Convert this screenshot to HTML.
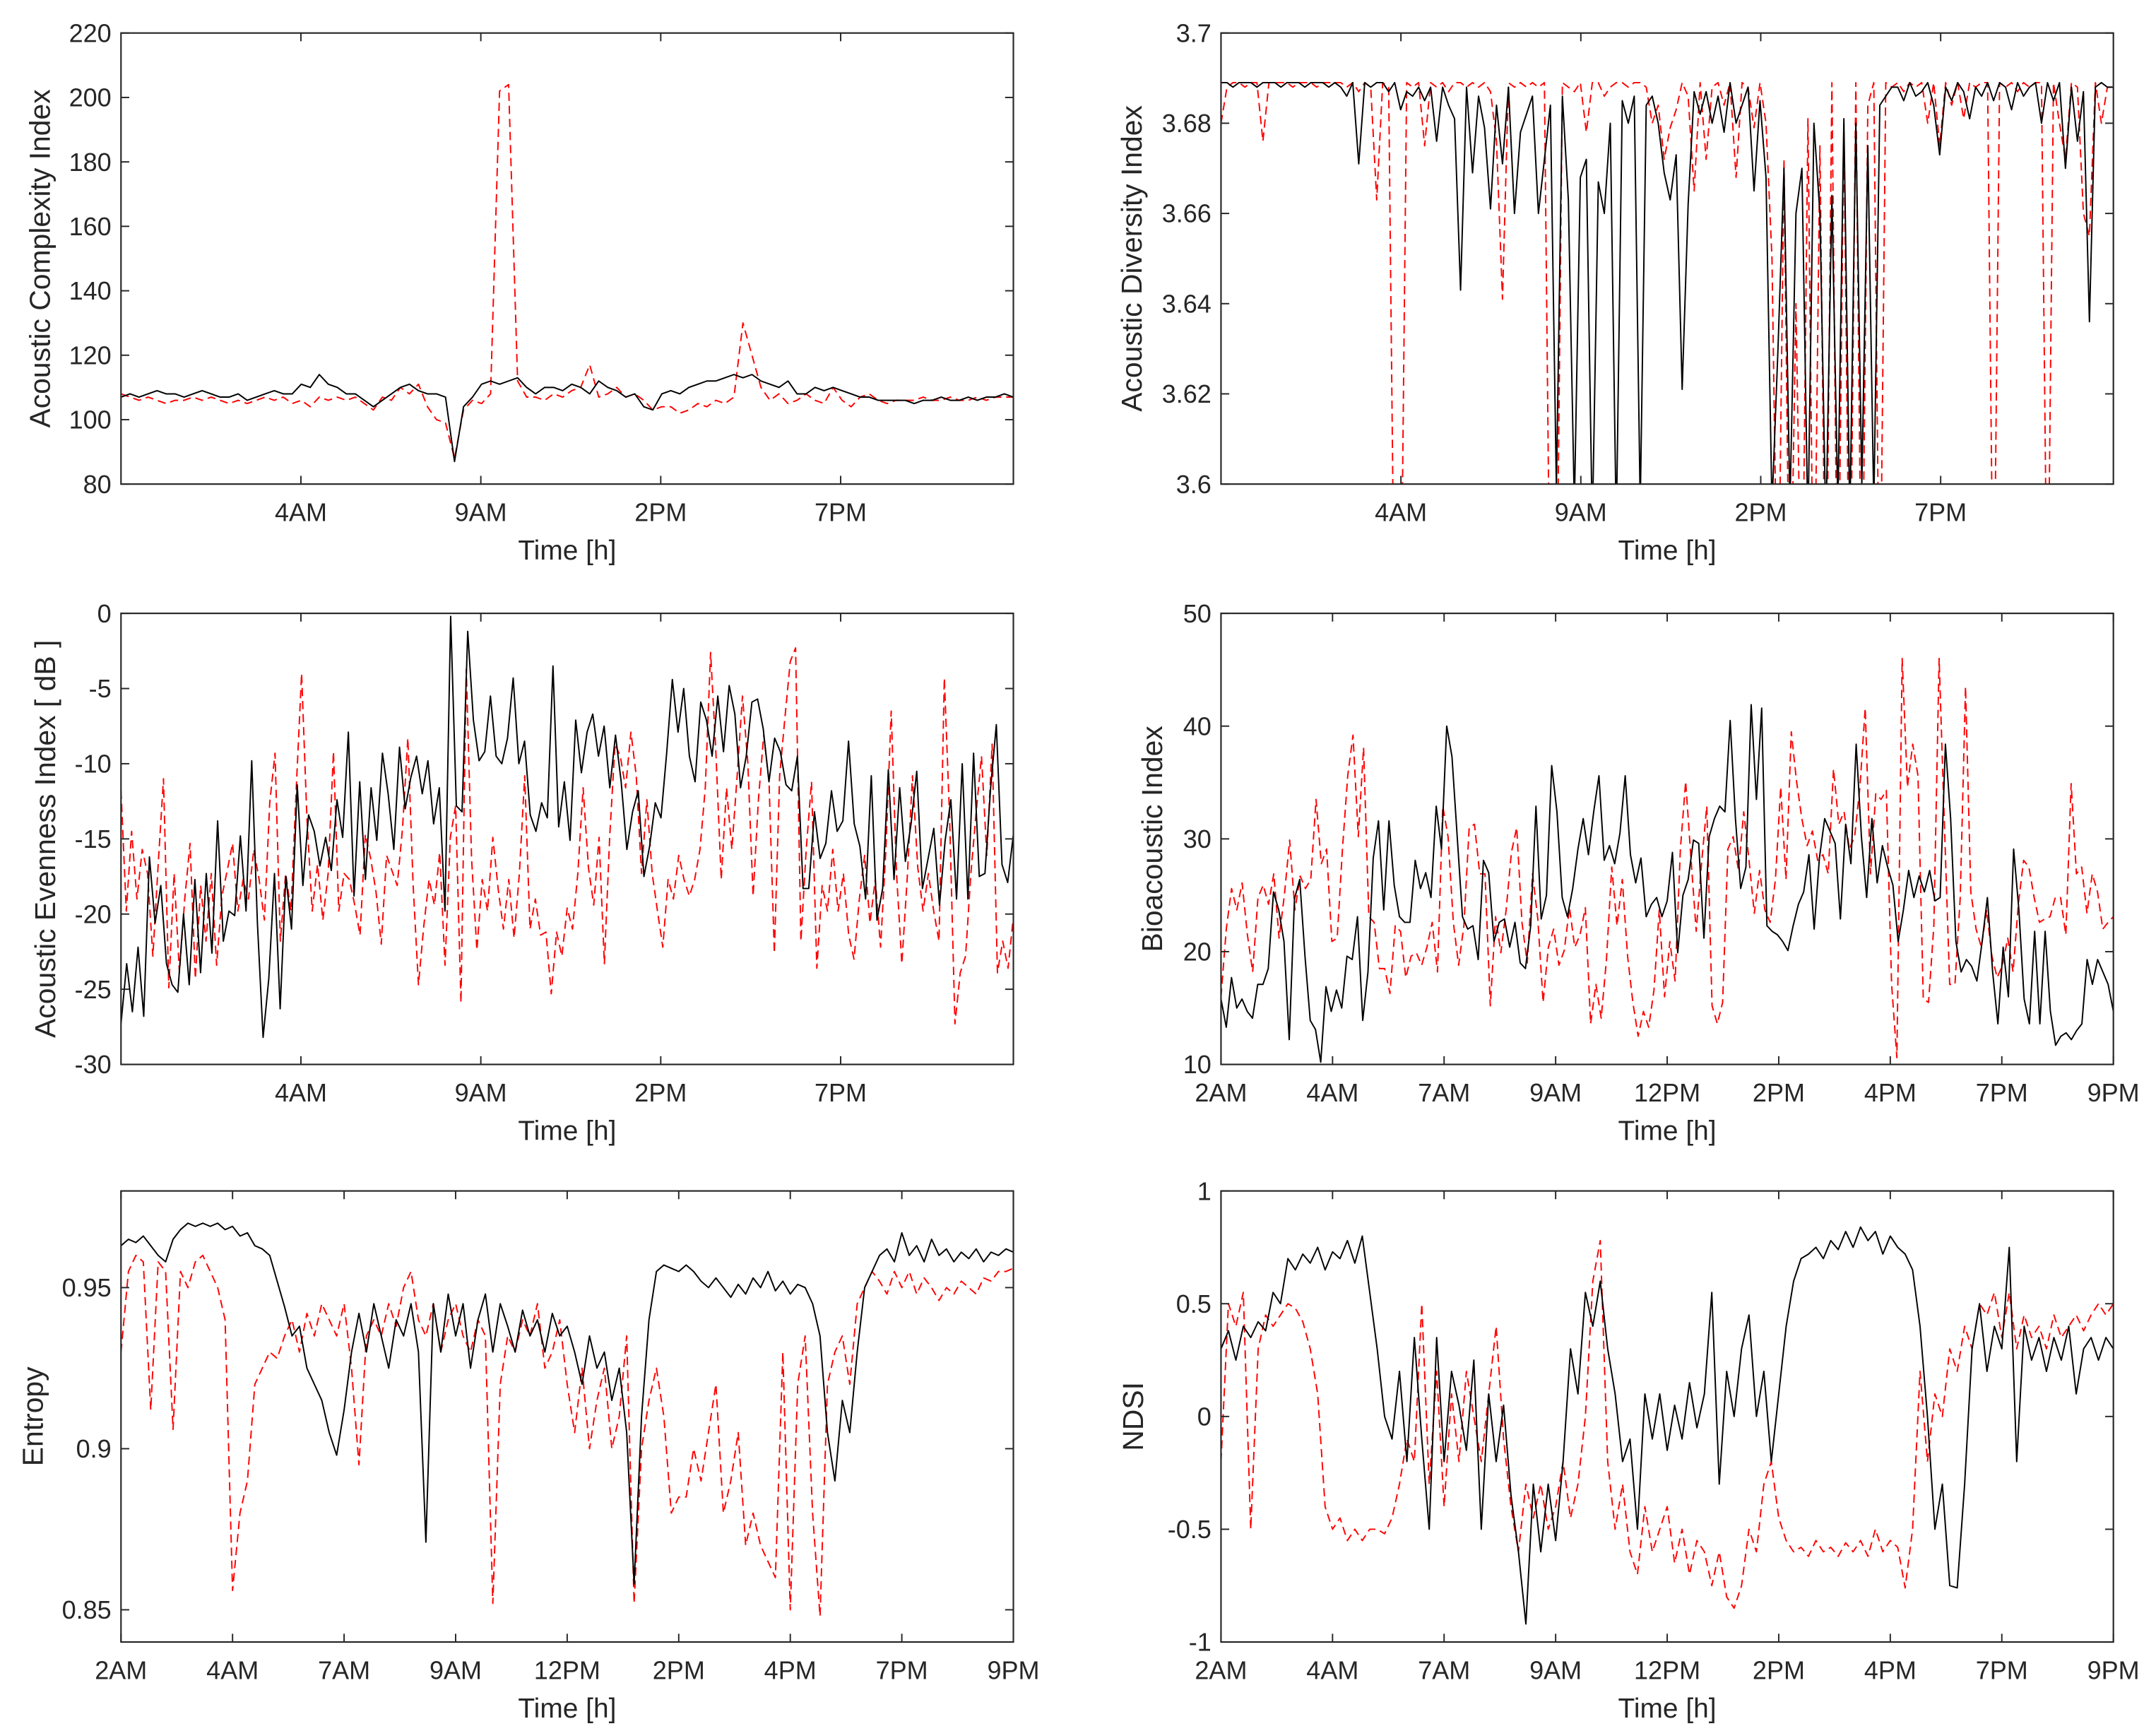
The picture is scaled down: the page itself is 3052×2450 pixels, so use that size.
<!DOCTYPE html>
<html><head><meta charset="utf-8">
<style>
html,body{margin:0;padding:0;background:#fff;}
svg{display:block;}
text{font-family:"Liberation Sans",Arial,sans-serif;fill:#262626;}
</style></head>
<body>
<svg id="fig" xmlns="http://www.w3.org/2000/svg" width="3052" height="2450" viewBox="0 0 1568 1258.7"></svg>
<script>
// ---------- DATA ----------
const hourTicks12 = [5, 10, 15, 20];
const tickLabels12 = ["4AM", "9AM", "2PM", "7PM"];
const tickLabelsDay = ["2AM", "4AM", "7AM", "9AM", "12PM", "2PM", "4PM", "7PM", "9PM"];

const aciBlack = [107,108,107,108,109,108,108,107,108,109,108,107,107,108,106,107,108,109,108,108,
111,110,114,111,110,108,108,106,104,106,108,110,111,109,108,108,107,87,104,107,
111,112,111,112,113,110,108,110,110,109,111,110,108,112,110,109,107,108,104,103,
108,109,108,110,111,112,112,113,114,113,114,112,111,110,112,108,108,110,109,110,
109,108,107,107,106,106,106,106,105,106,106,107,106,106,107,106,107,107,108,107];
const aciRed = [108,107,106,107,106,105,106,106,107,106,107,106,105,106,105,106,107,106,107,105,
106,104,107,106,107,106,107,105,103,107,106,110,108,111,104,100,99,88,103,106,
105,108,202,204,112,107,107,106,108,107,109,110,117,107,108,110,107,108,106,103,
104,104,102,103,105,104,106,105,107,130,120,110,106,108,105,106,108,106,105,110,
106,104,107,108,106,105,106,106,106,107,106,106,107,106,106,107,106,107,107,107];

const adiBlack = [3.689,3.689,3.688,3.689,3.689,3.689,3.688,3.689,3.689,3.689,3.688,3.689,3.689,3.689,3.688,3.689,3.689,3.689,3.688,3.689,
3.688,3.686,3.689,3.671,3.689,3.688,3.689,3.689,3.687,3.689,
3.683,3.687,3.686,3.688,3.685,3.688,3.676,3.688,3.684,3.681,
3.643,3.688,3.669,3.686,3.679,3.661,3.684,3.671,3.688,3.660,
3.678,3.682,3.686,3.660,3.672,3.684,3.599,3.686,3.663,3.595,
3.668,3.672,3.590,3.667,3.660,3.680,3.590,3.685,3.680,3.686,
3.595,3.684,3.686,3.680,3.669,3.663,3.673,3.621,3.662,3.687,
3.682,3.687,3.680,3.686,3.678,3.689,3.680,3.684,3.688,3.665,
3.685,3.668,3.595,3.630,3.670,3.595,3.660,3.670,3.590,3.680,
3.660,3.590,3.664,3.595,3.681,3.592,3.680,3.600,3.675,3.595,
3.684,3.686,3.688,3.688,3.685,3.689,3.686,3.687,3.689,3.684,
3.673,3.688,3.685,3.689,3.687,3.681,3.688,3.686,3.689,3.685,
3.689,3.688,3.683,3.689,3.686,3.688,3.689,3.680,3.689,3.685,
3.689,3.670,3.688,3.676,3.687,3.636,3.688,3.689,3.688,3.688];
const adiRed = [3.680,3.688,3.689,3.689,3.688,3.689,3.689,3.676,3.689,3.689,
3.689,3.689,3.688,3.689,3.689,3.689,3.688,3.689,3.689,3.689,
3.689,3.688,3.689,3.687,3.689,3.688,3.663,3.689,3.688,3.560,
3.560,3.689,3.688,3.689,3.675,3.689,3.688,3.689,3.687,3.689,
3.689,3.688,3.689,3.688,3.689,3.687,3.676,3.641,3.689,3.688,
3.689,3.688,3.689,3.688,3.689,3.560,3.560,3.689,3.688,3.687,
3.689,3.678,3.689,3.689,3.686,3.688,3.689,3.689,3.688,3.689,
3.689,3.688,3.680,3.684,3.672,3.679,3.683,3.689,3.686,3.665,
3.689,3.672,3.688,3.689,3.684,3.689,3.668,3.689,3.688,3.679,
3.689,3.680,3.650,3.560,3.672,3.560,3.640,3.560,3.681,3.560,
3.675,3.560,3.689,3.560,3.680,3.560,3.689,3.560,3.684,3.689,
3.560,3.689,3.688,3.689,3.687,3.689,3.688,3.689,3.680,3.689,
3.675,3.689,3.684,3.689,3.681,3.689,3.688,3.689,3.689,3.560,
3.689,3.688,3.689,3.687,3.689,3.688,3.689,3.689,3.560,3.689,
3.680,3.672,3.689,3.688,3.660,3.655,3.689,3.680,3.688,3.688];

const aeiBlack = [-27.3,-23.3,-26.5,-22.2,-26.8,-16.2,-20.6,-18.1,-23.3,-24.7,-25.2,-20,-24.7,-17.7,-23.9,-17.3,-22.6,-13.8,-21.8,-19.8,-20.1,-14.8,-19.8,-9.8,-20.6,-28.2,-24.3,-17.3,-26.3,-17.5,-21,-11.4,-18.1,-13.4,-14.5,-16.8,-14.9,-17.1,-12.4,-14.9,-7.9,-18.8,-11.2,-17.7,-11.6,-15.1,-9.3,-12,-15.7,-8.9,-13,-10.9,-9.5,-12,-9.8,-14,-11.6,-19.8,-0.2,-12.8,-13.2,-1.2,-7.1,-9.8,-9.2,-5.5,-9.5,-10,-8.3,-4.3,-10,-8.5,-13.4,-14.5,-12.6,-13.6,-3.5,-14.2,-11.2,-15.1,-7.1,-10.6,-7.9,-6.7,-9.5,-7.5,-11.6,-8.1,-11.2,-15.7,-13.2,-11.8,-17.5,-15.5,-12.6,-13.6,-9.3,-4.4,-7.9,-5,-9.5,-11.2,-5.9,-7.1,-9.5,-5.5,-9.2,-4.8,-6.7,-11.6,-9.5,-5.9,-5.7,-7.7,-11.2,-8.3,-9.2,-11.4,-11.8,-9.5,-18.3,-18.3,-13.2,-16.3,-15.3,-11.8,-14.5,-13.8,-8.5,-14,-15.5,-19,-10.8,-20.4,-18.3,-10.4,-17.7,-11.6,-16.5,-14,-10.5,-18.3,-16.3,-14.3,-19.4,-15.1,-12.4,-19,-10,-19,-9.3,-17.5,-17.3,-11.6,-7.4,-16.7,-17.9,-14.7];
const aeiRed = [-11.8,-19.8,-14.5,-19,-15.7,-17.3,-22.8,-16.7,-11,-24.9,-17.3,-23.9,-19,-15.3,-24.3,-18.1,-21.8,-17.3,-23.4,-18.8,-17.1,-15.3,-19.8,-17.7,-19,-15.7,-17.7,-20.4,-12.6,-9.3,-21.8,-17.3,-19.8,-11.6,-4,-13.6,-19.8,-16.7,-20.4,-17.3,-9.2,-19.8,-17.3,-17.7,-19.4,-21.4,-14.7,-16.3,-18.5,-22,-16.1,-17.1,-18.1,-14.3,-8.3,-18.1,-24.7,-20.8,-17.7,-19.4,-15.9,-23.4,-14.9,-12.8,-25.9,-3.7,-16.3,-22.4,-17.7,-19.8,-14.9,-18.3,-21,-17.7,-21.6,-17.3,-10.8,-21,-19,-21.4,-21.2,-25.3,-21.2,-22.8,-19.6,-21,-17.3,-11.6,-16.9,-19.4,-14.9,-23.3,-14.9,-8.7,-9.5,-11.6,-7.9,-10.8,-17.3,-12.4,-17.3,-19.8,-22.2,-17.7,-19,-16.1,-17.7,-18.8,-17.7,-15.7,-11.6,-2.6,-9.3,-17.7,-11.6,-15.7,-10.8,-5.5,-9.9,-18.8,-12.4,-8.1,-11.2,-22.6,-10.8,-6.9,-3.2,-2.3,-21.8,-15.7,-11.2,-23.6,-18.1,-19.8,-15.7,-19.8,-17.3,-21.4,-23,-19,-16.1,-20.6,-17.7,-22.2,-15.7,-6.5,-17.3,-23.3,-17.7,-10.8,-16.9,-19.8,-17.3,-19.8,-21.8,-4.3,-13.6,-27.3,-23.9,-22.8,-17.3,-13.2,-9.5,-16.1,-8.7,-23.9,-21.8,-23.6,-20.2];

const biBlack = [15.8,13.3,17.7,15,15.8,14.7,14.1,17.1,17.1,18.5,25.3,23.7,20.9,12.2,24.7,26.4,19.6,13.9,13.1,10.2,16.9,14.7,16.6,15,19.6,19.3,23.1,13.9,18.2,28.3,31.6,23.7,31.6,25.9,23.1,22.6,22.6,28.1,25.6,27,24.8,32.9,29.1,40,37.3,30.2,23.1,22,22.3,19.3,28.1,27,20.9,22.6,22.9,20.4,22.6,19,18.5,22.3,32.9,22.9,25,36.5,32.4,24.8,23.1,25.6,29.1,31.8,28.6,32.4,35.6,28.1,29.4,27.8,30.5,35.6,28.6,26.1,28.3,23.1,24.2,24.8,23.1,24.5,28.8,19.9,25,26.4,29.9,29.6,21.2,30.2,31.8,32.9,32.4,40.5,31.8,25.6,27.5,41.9,33.5,41.6,22.3,21.8,21.5,20.9,20.1,22.3,24.2,25.3,28.6,22,28.3,31.8,30.7,29.6,22.9,31.3,27.8,38.4,30.2,24.8,31.8,26.1,29.4,27.5,25.9,20.9,23.7,27.2,24.8,26.7,25.3,27.2,24.5,24.8,38.4,31.8,20.9,18.2,19.3,18.7,17.4,20.9,24.8,18.2,13.6,20.4,16,29.1,23.7,15.8,13.6,21.8,13.6,21.8,14.7,11.7,12.5,12.8,12.2,13,13.6,19.3,17.1,19.3,18.2,17.1,14.7];
const biRed = [16,22,25.6,23.7,26.1,21.5,18.2,24.8,25.9,24.2,26.9,21.2,25,29.9,23.7,26.7,25.6,26.4,33.5,27.8,29.1,20.9,21.2,29.1,35.6,39.2,30.2,38.1,23.1,22.6,18.5,18.5,16.3,22.3,21.8,17.7,19.6,19.9,18.8,20.4,22.6,18.2,32.9,30.2,22.6,18.8,22.3,31,31.3,26.9,26.9,15.2,23.1,19.9,23.7,28.8,31,22.6,19,26.9,22.9,15.5,20.4,22,18.8,20.1,23.9,20.4,21.5,23.9,13.6,17.1,14.1,19.3,27.5,22.3,26.4,19.6,15.5,12.5,14.7,13.3,16.6,23.7,16,20.9,17.4,29.1,35.1,28.3,21.8,27.8,32.9,15.2,13.6,15.5,29.1,30.2,27.2,32.4,28.1,23.4,27.2,23.7,22.6,26.4,34.6,26.4,39.5,35.1,31.8,29.4,30.7,28.1,28.6,26.9,36.2,31.3,32.4,29.1,30.2,34.6,41.6,26.9,34,33.5,34.3,17.1,10.6,46,34.6,38.4,35.6,15.8,15.5,22.3,46,31.3,17.1,17.1,24.8,43.5,25.3,22,20.4,23.7,19.6,17.7,18.8,21.2,18.2,24.2,28.1,27.5,24.8,22.6,22.9,23.1,24.8,24.8,21.5,34.9,26.9,27.5,23.4,26.9,25.3,22,22.6,23.1];

const entBlack = [0.963,0.965,0.964,0.966,0.963,0.960,0.958,0.965,0.968,0.970,0.969,0.970,0.969,0.970,0.968,0.969,0.966,0.967,0.963,0.962,0.960,0.952,0.944,0.935,0.938,0.925,0.920,0.915,0.905,0.898,0.912,0.930,0.942,0.930,0.945,0.935,0.925,0.940,0.935,0.945,0.930,0.871,0.945,0.930,0.948,0.935,0.945,0.925,0.940,0.948,0.930,0.945,0.938,0.930,0.943,0.935,0.940,0.930,0.942,0.935,0.938,0.930,0.920,0.935,0.925,0.930,0.915,0.925,0.905,0.858,0.910,0.940,0.955,0.957,0.956,0.955,0.957,0.955,0.952,0.950,0.953,0.950,0.947,0.951,0.948,0.953,0.950,0.955,0.949,0.952,0.948,0.951,0.950,0.945,0.935,0.905,0.890,0.915,0.905,0.930,0.950,0.955,0.960,0.962,0.958,0.967,0.960,0.963,0.958,0.965,0.960,0.962,0.958,0.961,0.959,0.962,0.958,0.961,0.960,0.962,0.961];
const entRed = [0.930,0.955,0.960,0.958,0.912,0.958,0.955,0.906,0.955,0.950,0.958,0.960,0.955,0.950,0.940,0.856,0.880,0.890,0.920,0.925,0.930,0.928,0.935,0.940,0.930,0.942,0.935,0.945,0.940,0.935,0.945,0.925,0.895,0.935,0.940,0.935,0.945,0.938,0.950,0.955,0.940,0.935,0.945,0.930,0.940,0.945,0.935,0.930,0.940,0.935,0.852,0.920,0.935,0.930,0.940,0.935,0.945,0.925,0.930,0.940,0.920,0.905,0.925,0.900,0.915,0.925,0.900,0.910,0.935,0.852,0.900,0.915,0.925,0.910,0.880,0.885,0.885,0.900,0.890,0.905,0.920,0.880,0.890,0.905,0.870,0.880,0.870,0.865,0.860,0.930,0.850,0.920,0.935,0.880,0.848,0.920,0.930,0.935,0.920,0.945,0.950,0.955,0.952,0.948,0.955,0.950,0.955,0.948,0.953,0.950,0.946,0.950,0.948,0.952,0.950,0.948,0.953,0.952,0.955,0.955,0.956];

const ndsiBlack = [0.30,0.38,0.25,0.40,0.35,0.42,0.38,0.55,0.50,0.70,0.65,0.72,0.68,0.75,0.65,0.73,0.70,0.78,0.68,0.80,0.55,0.30,0.00,-0.10,0.20,-0.20,0.35,-0.10,-0.50,0.35,-0.20,0.20,0.05,-0.15,0.25,-0.50,0.10,-0.20,0.05,-0.35,-0.60,-0.92,-0.30,-0.60,-0.30,-0.55,-0.20,0.30,0.10,0.55,0.40,0.60,0.30,0.10,-0.20,-0.10,-0.50,0.10,-0.10,0.10,-0.15,0.05,-0.10,0.15,-0.05,0.10,0.55,-0.30,0.20,0.00,0.30,0.45,0.00,0.20,-0.20,0.10,0.40,0.60,0.70,0.72,0.75,0.70,0.78,0.74,0.82,0.75,0.84,0.78,0.82,0.72,0.80,0.75,0.72,0.65,0.40,0.00,-0.50,-0.30,-0.75,-0.76,-0.30,0.30,0.50,0.20,0.40,0.30,0.75,-0.20,0.40,0.25,0.35,0.20,0.35,0.25,0.40,0.10,0.30,0.35,0.25,0.35,0.30];
const ndsiRed = [-0.20,0.50,0.40,0.55,-0.50,0.30,0.45,0.40,0.45,0.50,0.48,0.42,0.30,0.10,-0.40,-0.50,-0.45,-0.55,-0.50,-0.55,-0.50,-0.50,-0.52,-0.45,-0.30,-0.10,-0.20,0.50,-0.30,0.20,-0.40,0.10,-0.20,0.20,0.00,-0.20,0.10,0.40,-0.10,-0.40,-0.60,-0.30,-0.45,-0.30,-0.50,-0.40,-0.20,-0.45,-0.30,0.00,0.60,0.78,-0.20,-0.50,-0.30,-0.60,-0.70,-0.40,-0.60,-0.50,-0.40,-0.65,-0.50,-0.70,-0.55,-0.60,-0.75,-0.60,-0.80,-0.85,-0.75,-0.50,-0.60,-0.30,-0.20,-0.45,-0.55,-0.60,-0.58,-0.62,-0.55,-0.60,-0.58,-0.62,-0.56,-0.60,-0.55,-0.62,-0.50,-0.60,-0.55,-0.58,-0.76,-0.50,0.20,-0.20,0.10,0.00,0.30,0.20,0.40,0.30,0.50,0.45,0.55,0.35,0.55,0.30,0.45,0.35,0.40,0.30,0.45,0.35,0.40,0.45,0.38,0.45,0.50,0.45,0.50];

// ---------- RENDER ----------
const NS = 'http://www.w3.org/2000/svg';
const svg = document.getElementById('fig');
function mk(tag, parent) { const e = document.createElementNS(NS, tag); parent.appendChild(e); return e; }

const panels = [
  {id:'aci', x:88, y:24, title:'Acoustic Complexity Index', ymin:80, ymax:220, yt:[80,100,120,140,160,180,200,220], yl:['80','100','120','140','160','180','200','220'], mode:'hours', black:aciBlack, red:aciRed, tx:29},
  {id:'adi', x:888, y:24, title:'Acoustic Diversity Index', ymin:3.6, ymax:3.7, yt:[3.6,3.62,3.64,3.66,3.68,3.7], yl:['3.6','3.62','3.64','3.66','3.68','3.7'], mode:'hours', black:adiBlack, red:adiRed, tx:823},
  {id:'aei', x:88, y:446, title:'Acoustic Evenness Index [ dB ]', ymin:-30, ymax:0, yt:[-30,-25,-20,-15,-10,-5,0], yl:['-30','-25','-20','-15','-10','-5','0'], mode:'hours', black:aeiBlack, red:aeiRed, tx:33},
  {id:'bi', x:888, y:446, title:'Bioacoustic Index', ymin:10, ymax:50, yt:[10,20,30,40,50], yl:['10','20','30','40','50'], mode:'day', black:biBlack, red:biRed, tx:838},
  {id:'entropy', x:88, y:866, title:'Entropy', ymin:0.84, ymax:0.98, yt:[0.85,0.9,0.95], yl:['0.85','0.9','0.95'], mode:'day', black:entBlack, red:entRed, tx:24},
  {id:'ndsi', x:888, y:866, title:'NDSI', ymin:-1, ymax:1, yt:[-1,-0.5,0,0.5,1], yl:['-1','-0.5','0','0.5','1'], mode:'day', black:ndsiBlack, red:ndsiRed, tx:824}
];
const W = 649, H = 328, HOURS = 24.8;

panels.forEach(p => {
  const g = mk('g', svg);
  
  
  const yS = v => p.y + H - (v - p.ymin) / (p.ymax - p.ymin) * H;
  const xIdx = (i, n) => p.x + i / (n - 1) * W;

  const cp = mk('clipPath', g);
  cp.setAttribute('id', 'clip-' + p.id);
  const cr = mk('rect', cp);
  cr.setAttribute('x', p.x); cr.setAttribute('y', p.y); cr.setAttribute('width', W); cr.setAttribute('height', H);

  [['red', p.red, '#ff0000', '6 3.5'], ['black', p.black, '#000000', null]].forEach(([nm, arr, col, dash]) => {
    const pts = arr.map((v, i) => xIdx(i, arr.length).toFixed(2) + ',' + yS(v).toFixed(2)).join(' ');
    const pl = mk('polyline', g);
    
    
    pl.setAttribute('points', pts);
    pl.setAttribute('fill', 'none');
    pl.setAttribute('stroke', col);
    pl.setAttribute('stroke-width', '1');
    pl.setAttribute('stroke-linejoin', 'round');
    if (dash) pl.setAttribute('stroke-dasharray', dash);
    pl.setAttribute('clip-path', 'url(#clip-' + p.id + ')');
  });

  const fr = mk('rect', g);
  
  
  fr.setAttribute('x', p.x); fr.setAttribute('y', p.y); fr.setAttribute('width', W); fr.setAttribute('height', H);
  fr.setAttribute('fill', 'none'); fr.setAttribute('stroke', '#262626'); fr.setAttribute('stroke-width', '1.1');

  p.yt.forEach((v, i) => {
    const yy = yS(v);
    [[p.x, p.x + 6], [p.x + W, p.x + W - 6]].forEach(([a, b]) => {
      const l = mk('line', g);
      l.setAttribute('x1', a); l.setAttribute('x2', b); l.setAttribute('y1', yy); l.setAttribute('y2', yy);
      l.setAttribute('stroke', '#262626'); l.setAttribute('stroke-width', '1');
    });
    const t = mk('text', g);
    
    
    t.setAttribute('x', p.x - 7); t.setAttribute('y', yy + 6.5);
    t.setAttribute('text-anchor', 'end'); t.setAttribute('font-size', '18.5');
    t.textContent = p.yl[i];
  });

  let xt = [], xl = [];
  if (p.mode === 'hours') { xt = hourTicks12.map(h => p.x + h / HOURS * W); xl = tickLabels12; }
  else { xt = tickLabelsDay.map((_, i) => p.x + i / (tickLabelsDay.length - 1) * W); xl = tickLabelsDay; }
  xt.forEach((xx, i) => {
    [[p.y + H, p.y + H - 6], [p.y, p.y + 6]].forEach(([a, b]) => {
      const l = mk('line', g);
      l.setAttribute('x1', xx); l.setAttribute('x2', xx); l.setAttribute('y1', a); l.setAttribute('y2', b);
      l.setAttribute('stroke', '#262626'); l.setAttribute('stroke-width', '1');
    });
    const t = mk('text', g);
    
    
    t.setAttribute('x', xx); t.setAttribute('y', p.y + H + 27);
    t.setAttribute('text-anchor', 'middle'); t.setAttribute('font-size', '18.5');
    t.textContent = xl[i];
  });

  const xtl = mk('text', g);
  
  
  xtl.setAttribute('x', p.x + W / 2); xtl.setAttribute('y', p.y + H + 55);
  xtl.setAttribute('text-anchor', 'middle'); xtl.setAttribute('font-size', '20');
  xtl.textContent = 'Time [h]';

  const ytl = mk('text', g);
  
  
  const cy = p.y + H / 2;
  ytl.setAttribute('x', p.tx); ytl.setAttribute('y', cy);
  ytl.setAttribute('transform', 'rotate(-90 ' + p.tx + ' ' + cy + ')');
  ytl.setAttribute('text-anchor', 'middle'); ytl.setAttribute('font-size', '21');
  ytl.setAttribute('dominant-baseline', 'central');
  ytl.textContent = p.title;
});
</script>
</body></html>
